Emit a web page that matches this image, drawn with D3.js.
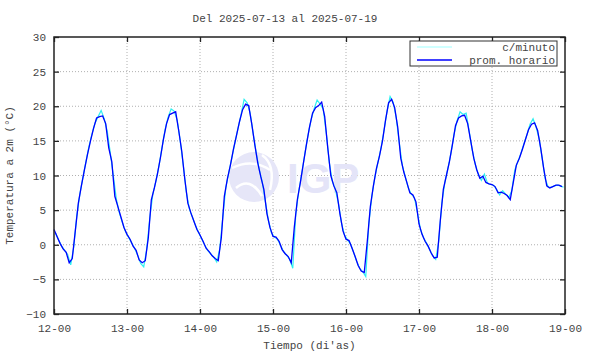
<!DOCTYPE html>
<html>
<head>
<meta charset="utf-8">
<script src="https://cdn.jsdelivr.net/npm/d3@7"></script>
<style>
  body { margin: 0; background: #fff; }
  text { font-family: "Liberation Mono", "DejaVu Sans Mono", monospace; font-size: 11px; fill: #444; }
</style>
</head>
<body>
<div id="chart"></div>
<script>
// etiquetas de los dias (eje x), una por dia
var dayLabels = ["12-00", "13-00", "14-00", "15-00", "16-00", "17-00", "18-00", "19-00"];
var yTicks = [-10, -5, 0, 5, 10, 15, 20, 25, 30];

// promedio horario, 24 valores por dia (12 al 18)
var horario12 = [2.2,1.2,0.2,-0.6,-1.1,-2.6,-2.0,2.0,6.0,8.5,10.8,13.0,15.0,16.8,18.3,18.5,18.6,17.5,14.0,12.0,7.0,5.5,4.0,2.5];
var horario13 = [1.5,0.8,-0.2,-0.8,-2.2,-2.6,-2.3,1.0,6.5,8.2,10.2,12.6,15.3,17.5,18.8,19.0,19.2,16.5,13.5,9.5,6.0,4.6,3.4,2.2];
var horario14 = [1.4,0.5,-0.5,-1.0,-1.6,-2.0,-2.3,1.0,7.0,9.5,11.5,13.8,15.8,17.8,19.5,20.3,20.1,17.5,14.5,11.8,9.8,8.0,4.5,2.5];
var horario15 = [1.2,1.1,0.5,-0.7,-1.3,-1.7,-2.6,2.5,6.5,9.0,11.8,14.5,17.0,19.0,19.8,20.1,20.6,18.5,14.0,10.0,8.5,7.5,4.5,2.0];
var horario16 = [0.8,0.6,-0.5,-1.7,-3.0,-3.8,-4.0,0.5,5.5,8.5,11.0,12.8,15.0,18.0,20.5,21.0,19.8,17.0,12.5,10.5,9.0,7.5,7.2,6.2];
var horario17 = [3.0,1.5,0.5,-0.2,-1.2,-1.9,-1.8,3.5,8.0,10.0,12.0,14.5,17.2,18.3,18.6,18.7,17.5,15.0,12.5,10.8,9.6,9.9,9.0,8.8];
var horario18 = [8.7,8.4,7.5,7.6,7.4,7.1,6.5,9.0,11.5,12.5,13.8,15.2,16.6,17.4,17.6,16.5,14.0,11.0,8.5,8.2,8.4,8.6,8.6,8.4];

// lecturas c/minuto (muestreadas a la media hora)
var minuto12 = [1.7,0.7,-0.2,-0.8,-1.4,-2.9,-0.3,4.2,7.3,9.7,12.0,14.2,16.0,17.6,18.5,19.4,18.2,16.4,13.3,10.0,6.6,4.6,3.2,1.9];
var minuto13 = [1.1,0.3,-0.5,-1.5,-2.7,-3.2,-0.6,3.9,7.3,9.2,11.4,14.0,16.6,18.4,19.6,19.3,18.0,15.0,11.5,7.6,5.2,4.0,2.8,1.8];
var minuto14 = [0.9,0.0,-0.8,-1.3,-1.8,-2.5,-0.6,4.0,8.3,10.5,12.6,14.8,16.8,18.8,21.0,20.5,19.0,16.0,13.2,10.8,9.0,6.2,3.5,1.7];
var minuto15 = [1.1,0.8,-0.1,-1.0,-1.5,-2.1,-3.4,4.5,7.8,10.4,13.2,15.8,18.0,19.6,20.9,20.3,19.6,16.2,11.9,9.2,8.0,6.0,3.2,1.4];
var minuto16 = [0.7,0.1,-1.1,-2.4,-3.4,-3.9,-4.6,3.0,7.0,9.8,11.9,13.9,16.5,19.3,21.4,20.6,18.4,14.8,11.5,9.8,8.2,7.3,6.8,4.6];
var minuto17 = [2.2,1.0,0.2,-0.7,-1.6,-2.1,0.5,6.0,9.0,11.0,13.2,15.9,17.9,19.2,18.8,19.0,16.4,13.7,11.6,10.2,9.3,10.2,8.9,8.7];
var minuto18 = [8.6,8.0,7.2,7.8,7.3,6.8,7.8,10.8,12.0,13.2,14.6,15.9,17.4,18.2,17.0,15.3,12.5,9.5,8.3,8.3,8.5,8.6,8.5,8.3];

var horario = [].concat(horario12, horario13, horario14, horario15, horario16, horario17, horario18);
var minuto = [].concat(minuto12, minuto13, minuto14, minuto15, minuto16, minuto17, minuto18);

var width = 590, height = 354;
var margin = {left: 54, right: 25, top: 37, bottom: 40};
var iw = width - margin.left - margin.right;
var ih = height - margin.top - margin.bottom;

var svg = d3.select("#chart").append("svg")
    .attr("width", width)
    .attr("height", height);

var x = d3.scaleLinear().domain([0, 168]).range([margin.left, margin.left + iw]);
var y = d3.scaleLinear().domain([-10, 30]).range([margin.top + ih, margin.top]);
var xTicks = dayLabels.map(function(d, i){ return i * 24; });

// rejilla punteada
svg.append("g").selectAll("line.gx")
    .data(xTicks.slice(1, -1))
    .enter().append("line")
    .attr("x1", function(d){ return x(d); }).attr("x2", function(d){ return x(d); })
    .attr("y1", y(-10)).attr("y2", y(30))
    .attr("stroke", "#b0b0b0").attr("stroke-dasharray", "1,2");
svg.append("g").selectAll("line.gy")
    .data(yTicks.slice(1, -1))
    .enter().append("line")
    .attr("y1", function(d){ return y(d); }).attr("y2", function(d){ return y(d); })
    .attr("x1", x(0)).attr("x2", x(168))
    .attr("stroke", "#b0b0b0").attr("stroke-dasharray", "1,2");

// marca de agua IGP
var wm = svg.append("g");
wm.append("circle").attr("cx", 254).attr("cy", 177).attr("r", 25).attr("fill", "#e6e6f8");
wm.append("path").attr("d", "M232,168 Q252,158 270,170").attr("fill", "none").attr("stroke", "#fff").attr("stroke-width", 2.5);
wm.append("path").attr("d", "M236,188 Q250,176 262,196").attr("fill", "none").attr("stroke", "#fff").attr("stroke-width", 2.5);
wm.append("path").attr("d", "M262,155 Q276,165 270,190").attr("fill", "none").attr("stroke", "#fff").attr("stroke-width", 2.5);
wm.append("text").attr("x", 287).attr("y", 193)
    .style("font-family", "'Liberation Sans', Arial, sans-serif")
    .style("font-size", "42px").style("font-weight", "bold")
    .style("fill", "#e4e4f8").text("IGP");

// series
var lineMin = d3.line()
    .x(function(d, i){ return x(i + 0.5); })
    .y(function(d){ return y(d); });
var lineHor = d3.line()
    .x(function(d, i){ return x(i); })
    .y(function(d){ return y(d); });

svg.append("path").datum(minuto)
    .attr("d", lineMin).attr("fill", "none")
    .attr("stroke", "#30f0f0").attr("stroke-width", 1.2);
svg.append("path").datum(horario)
    .attr("d", lineHor).attr("fill", "none")
    .attr("stroke", "#0000ff").attr("stroke-width", 1.3);

// marco
svg.append("rect")
    .attr("x", x(0)).attr("y", y(30))
    .attr("width", iw).attr("height", ih)
    .attr("fill", "none").attr("stroke", "#222").attr("stroke-width", 1.5);

// ejes con marcas hacia adentro
var xAxis = d3.axisBottom(x).tickValues(xTicks).tickSize(-5).tickPadding(10)
    .tickFormat(function(d, i){ return dayLabels[i]; });
var gx = svg.append("g").attr("transform", "translate(0," + y(-10) + ")").call(xAxis);
var gxTop = svg.append("g").attr("transform", "translate(0," + y(30) + ")")
    .call(d3.axisTop(x).tickValues(xTicks).tickSize(-5).tickFormat(""));
var yAxis = d3.axisLeft(y).tickValues(yTicks).tickSize(-5).tickPadding(8);
var gy = svg.append("g").attr("transform", "translate(" + x(0) + ",0)").call(yAxis);
var gyR = svg.append("g").attr("transform", "translate(" + x(168) + ",0)")
    .call(d3.axisRight(y).tickValues(yTicks).tickSize(-5).tickFormat(""));

[gx, gxTop, gy, gyR].forEach(function(g){
    g.select(".domain").remove();
    g.selectAll(".tick line").attr("stroke", "#222").attr("stroke-width", 1.3);
    g.selectAll("text").attr("font-family", null).attr("font-size", null).style("fill", "#444");
});

// leyenda
var leg = svg.append("g");
leg.append("rect").attr("x", 410).attr("y", 41).attr("width", 147).attr("height", 25)
    .attr("fill", "#fff").attr("stroke", "#333").attr("stroke-width", 1);
leg.append("line").attr("x1", 417).attr("x2", 452).attr("y1", 47).attr("y2", 47)
    .attr("stroke", "#a0ffff").attr("stroke-width", 1.2);
leg.append("line").attr("x1", 417).attr("x2", 452).attr("y1", 60).attr("y2", 60)
    .attr("stroke", "#0000ff").attr("stroke-width", 1.3);
leg.append("text").attr("x", 555).attr("y", 51).attr("text-anchor", "end").text("c/minuto");
leg.append("text").attr("x", 555).attr("y", 64).attr("text-anchor", "end").text("prom. horario");

// titulos
svg.append("text").attr("x", 285).attr("y", 22).attr("text-anchor", "middle")
    .text("Del 2025-07-13 al 2025-07-19");
svg.append("text").attr("x", x(84)).attr("y", 349).attr("text-anchor", "middle")
    .text("Tiempo (di'as)");
svg.append("text")
    .attr("transform", "translate(13," + y(10) + ") rotate(-90)")
    .attr("text-anchor", "middle")
    .text("Temperatura a 2m (°C)");
</script>
</body>
</html>
